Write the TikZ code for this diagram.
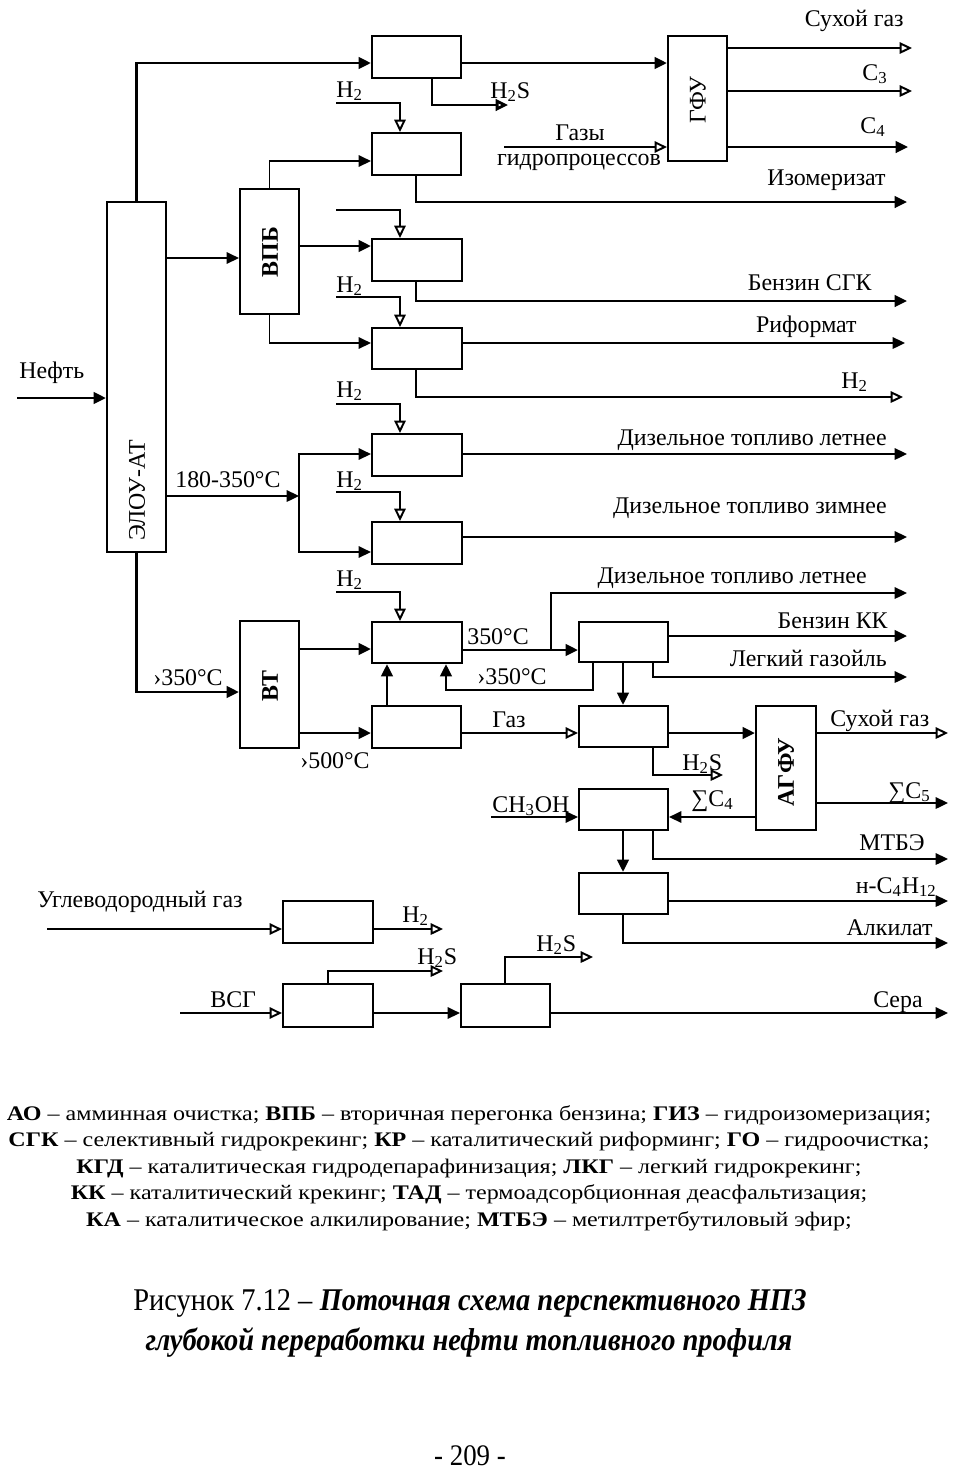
\documentclass[tikz,border=0pt]{standalone}
\usepackage{fontspec}
\setmainfont{Liberation Serif}
\newfontfamily\capfont[FakeStretch=0.9]{Liberation Serif}
\newfontfamily\legfont[FakeStretch=1.16]{Liberation Serif}
\usetikzlibrary{arrows.meta,fit,calc}
\newcommand{\lblfont}{\fontsize{13.6}{15}\selectfont}
\begin{document}
\begin{tikzpicture}[x=0.02cm,y=-0.02cm,
  box/.style={draw, line width=1.2pt, inner sep=0pt},
  ln/.style={line width=1.1pt},
  tk/.style={line width=1.6pt},
  fa/.style={ln, -{Triangle[length=7pt,width=6.5pt]}},
  oa/.style={ln, -{Triangle[open,length=7pt,width=6.5pt,fill=white]}},
  lbl/.style={font=\lblfont, inner sep=0pt},
  rl/.style={font=\lblfont, inner sep=0pt, rotate=90},
  rb/.style={font=\lblfont\bfseries, inner sep=0pt, rotate=90},
]
\useasboundingbox (0,0) rectangle (957,1475);

% boxes
\node[box, fit={(107,202)(166,552)}] (elou) {};
\node[box, fit={(240,189)(299,314)}] (vpb) {};
\node[box, fit={(240,621)(299,748)}] (vt) {};
\node[box, fit={(372,36)(461,78)}] (a1) {};
\node[box, fit={(372,133)(461,175)}] (a2) {};
\node[box, fit={(372,239)(462,281)}] (a3) {};
\node[box, fit={(372,328)(462,369)}] (a4) {};
\node[box, fit={(372,434)(462,476)}] (a5) {};
\node[box, fit={(372,522)(462,564)}] (a6) {};
\node[box, fit={(372,622)(462,663)}] (a7) {};
\node[box, fit={(372,706)(461,748)}] (a8) {};
\node[box, fit={(668,36)(727,161)}] (gfu) {};
\node[box, fit={(579,622)(668,662)}] (b1) {};
\node[box, fit={(579,706)(668,747)}] (b2) {};
\node[box, fit={(756,706)(816,830)}] (agfu) {};
\node[box, fit={(579,789)(668,830)}] (b3) {};
\node[box, fit={(579,873)(668,914)}] (b4) {};
\node[box, fit={(283,901)(373,943)}] (c1) {};
\node[box, fit={(283,984)(373,1027)}] (c2) {};
\node[box, fit={(461,984)(550,1027)}] (c3) {};

% box labels
\node[rl] (telou) at (137,490) {ЭЛОУ-АТ};
\node[rb] (tvpb) at (270,252) {ВПБ};
\node[rb] (tvt) at (270,686) {ВТ};
\node[rl] (tgfu) at (698,100) {ГФУ};
\node[rb] (tagfu) at (786,772) {АГФУ};

% free ends
\coordinate (o1) at (912,48);
\coordinate (o2) at (912,91);
\coordinate (o3) at (908,147);
\coordinate (igp) at (504,147);
\coordinate (oh2s1) at (508,105);
\coordinate (ih1) at (336,103);
\coordinate (oizo) at (907,202);
\coordinate (ih2) at (336,210);
\coordinate (ih3) at (336,297);
\coordinate (osgk) at (907,301);
\coordinate (oref) at (905,343);
\coordinate (oh2) at (903,397);
\coordinate (ineft) at (17,398);
\coordinate (ih4) at (336,404);
\coordinate (odtl) at (907,454);
\coordinate (sp) at (299,496);
\coordinate (ih5) at (336,492);
\coordinate (odtz) at (907,537);
\coordinate (ih6) at (336,592);
\coordinate (ret) at (446,690);
\coordinate (br) at (551,650);
\coordinate (odtl2) at (907,593);
\coordinate (obkk) at (907,636);
\coordinate (olg) at (907,677);
\coordinate (oh2s2) at (723,775);
\coordinate (osg2) at (948,733);
\coordinate (oc5) at (948,803);
\coordinate (ich) at (491,817);
\coordinate (omtbe) at (948,859);
\coordinate (onc) at (948,901);
\coordinate (oalk) at (948,943);
\coordinate (iug) at (47,929);
\coordinate (oh2c) at (443,929);
\coordinate (ivsg) at (180,1013);
\coordinate (oh2s3) at (443,971);
\coordinate (oh2s4) at (593,957);
\coordinate (oser) at (948,1013);

% connectors top
\draw[fa,tk] (elou.north) |- (a1.west |- 0,63);
\draw[fa,tk] (a1.east |- 0,63) -- (gfu.west |- 0,63);
\draw[oa,tk] (a1.south -| 432,0) |- (oh2s1);
\draw[oa] (ih1) -| (a2.north -| 400,0);
\draw[fa] (vpb.north) |- (a2.west |- 0,161);
\draw[fa,tk] (a2.south -| 416,0) |- (oizo);
\draw[oa] (ih2) -| (a3.north -| 400,0);
\draw[fa] (elou.east |- 0,258) -- (vpb.west |- 0,258);
\draw[fa,tk] (vpb.east |- 0,246) -- (a3.west |- 0,246);
\draw[oa] (ih3) -| (a4.north -| 400,0);
\draw[fa,tk] (a3.south -| 416,0) |- (osgk);
\draw[fa] (vpb.south) |- (a4.west |- 0,343);
\draw[fa] (a4.east |- 0,343) -- (oref);
\draw[oa] (a4.south -| 416,0) |- (oh2);
\draw[fa,tk] (ineft) -- (elou.west |- ineft);
\draw[oa] (ih4) -| (a5.north -| 400,0);
\draw[fa] (a5.east |- 0,454) -- (odtl);
\draw[fa] (elou.east |- sp) -- (sp);
\draw[fa] (sp) |- (a5.west |- 0,454);
\draw[fa] (sp) |- (a6.west |- 0,552);
\draw[oa] (ih5) -| (a6.north -| 400,0);
\draw[fa] (a6.east |- 0,537) -- (odtz);

% lower part
\draw[fa,tk] (elou.south) |- (vt.west |- 0,692);
\draw[oa] (ih6) -| (a7.north -| 400,0);
\draw[fa,tk] (vt.east |- 0,649) -- (a7.west |- 0,649);
\draw[fa,tk] (vt.east |- 0,733) -- (a8.west |- 0,733);
\draw[fa,tk] (a8.north -| 387,0) -- (a7.south -| 387,0);
\draw[fa,tk] (b1.south -| 593,0) |- (ret) -- (a7.south -| ret);
\draw[fa,tk] (a7.east |- 0,650) -- (b1.west |- 0,650);
\draw[fa] (br) |- (odtl2);
\draw[fa,tk] (b1.east |- obkk) -- (obkk);
\draw[fa] (b1.south -| 653,0) |- (olg);
\draw[fa,tk] (b1.south -| 623,0) -- (b2.north -| 623,0);
\draw[oa] (a8.east |- 0,733) -- (b2.west |- 0,733);
\draw[fa,tk] (b2.east |- 0,733) -- (agfu.west |- 0,733);
\draw[oa] (b2.south -| 653,0) |- (oh2s2);
\draw[oa] (agfu.east |- osg2) -- (osg2);
\draw[fa] (agfu.east |- oc5) -- (oc5);
\draw[fa] (agfu.west |- 0,817) -- (b3.east |- 0,817);
\draw[fa] (ich) -- (b3.west |- ich);
\draw[fa] (b3.south -| 653,0) |- (omtbe);
\draw[fa,tk] (b3.south -| 623,0) -- (b4.north -| 623,0);
\draw[fa] (b4.east |- onc) -- (onc);
\draw[fa] (b4.south -| 623,0) |- (oalk);

% bottom
\draw[oa] (iug) -- (c1.west |- iug);
\draw[oa] (c1.east |- oh2c) -- (oh2c);
\draw[oa] (ivsg) -- (c2.west |- ivsg);
\draw[oa] (c2.north -| 328,0) |- (oh2s3);
\draw[fa] (c2.east |- 0,1013) -- (c3.west |- 0,1013);
\draw[oa] (c3.north -| 505,0) |- (oh2s4);
\draw[fa] (c3.east |- oser) -- (oser);

% GFU
\draw[oa] (gfu.east |- o1) -- (o1);
\draw[oa] (gfu.east |- o2) -- (o2);
\draw[fa,tk] (gfu.east |- o3) -- (o3);
\draw[oa] (igp) -- (gfu.west |- igp);

% labels
\node[lbl, anchor=base east] (l1) at (904,26) {Сухой газ};
\node[lbl, anchor=base west] (l2) at (862,80) {C\textsubscript{3}};
\node[lbl, anchor=base west] (l3) at (860,133) {C\textsubscript{4}};
\node[lbl, anchor=base] (l4) at (580,140) {Газы};
\node[lbl, anchor=base] (l5) at (579,165) {гидропроцессов};
\node[lbl, anchor=base west] (l6) at (490,98) {H\textsubscript{2}S};
\node[lbl, anchor=base west] (l7) at (336,97) {H\textsubscript{2}};
\node[lbl, anchor=base east] (l8) at (886,185) {Изомеризат};
\node[lbl, anchor=base west] (l9) at (336,292) {H\textsubscript{2}};
\node[lbl, anchor=base east] (l10) at (872,290) {Бензин СГК};
\node[lbl, anchor=base east] (l11) at (857,332) {Риформат};
\node[lbl, anchor=base west] (l12) at (841,388) {H\textsubscript{2}};
\node[lbl, anchor=base west] (l13) at (19,378) {Нефть};
\node[lbl, anchor=base west] (l14) at (336,397) {H\textsubscript{2}};
\node[lbl, anchor=base east] (l15) at (887,445) {Дизельное топливо летнее};
\node[lbl, anchor=base west] (l16) at (175,487) {180-350°C};
\node[lbl, anchor=base west] (l17) at (336,487) {H\textsubscript{2}};
\node[lbl, anchor=base east] (l18) at (887,513) {Дизельное топливо зимнее};
\node[lbl, anchor=base west] (l19) at (336,586) {H\textsubscript{2}};
\node[lbl, anchor=base east] (l20) at (867,583) {Дизельное топливо летнее};
\node[lbl, anchor=base west] (l21) at (467,644) {350°C};
\node[lbl, anchor=base east] (l22) at (888,628) {Бензин КК};
\node[lbl, anchor=base east] (l23) at (887,666) {Легкий газойль};
\node[lbl, anchor=base west] (l24) at (153,685) {›350°C};
\node[lbl, anchor=base west] (l25) at (477,684) {›350°C};
\node[lbl, anchor=base west] (l26) at (492,727) {Газ};
\node[lbl, anchor=base west] (l27) at (300,768) {›500°C};
\node[lbl, anchor=base west] (l28) at (830,726) {Сухой газ};
\node[lbl, anchor=base west] (l29) at (682,770) {H\textsubscript{2}S};
\node[lbl, anchor=base west] (l30) at (691,806) {∑C\textsubscript{4}};
\node[lbl, anchor=base west] (l31) at (492,812) {CH\textsubscript{3}OH};
\node[lbl, anchor=base west] (l32) at (888,798) {∑C\textsubscript{5}};
\node[lbl, anchor=base east] (l33) at (925,850) {МТБЭ};
\node[lbl, anchor=base east] (l34) at (937,893) {н-C\textsubscript{4}H\textsubscript{12}};
\node[lbl, anchor=base east] (l35) at (933,935) {Алкилат};
\node[lbl, anchor=base west] (l36) at (37,907) {Углеводородный газ};
\node[lbl, anchor=base west] (l37) at (402,922) {H\textsubscript{2}};
\node[lbl, anchor=base west] (l38) at (210,1007) {ВСГ};
\node[lbl, anchor=base west] (l39) at (417,964) {H\textsubscript{2}S};
\node[lbl, anchor=base west] (l40) at (536,951) {H\textsubscript{2}S};
\node[lbl, anchor=base east] (l41) at (923,1007) {Сера};

% legend
\node[align=center, inner sep=0pt, anchor=base, font=\legfont\fontsize{11.8}{15}\selectfont] (legend) at (469,1226) {%
\textbf{АО} – амминная очистка; \textbf{ВПБ} – вторичная перегонка бензина; \textbf{ГИЗ} – гидроизомеризация;\\
\textbf{СГК} – селективный гидрокрекинг; \textbf{КР} – каталитический риформинг; \textbf{ГО} – гидроочистка;\\
\textbf{КГД} – каталитическая гидродепарафинизация; \textbf{ЛКГ} – легкий гидрокрекинг;\\
\textbf{КК} – каталитический крекинг; \textbf{ТАД} – термоадсорбционная деасфальтизация;\\
\textbf{КА} – каталитическое алкилирование; \textbf{МТБЭ} – метилтретбутиловый эфир;};

% caption
\node[inner sep=0pt, anchor=base, font=\capfont\fontsize{18}{22}\selectfont] (cap1) at (470,1310) {Рисунок 7.12 – \textbf{\itshape Поточная схема перспективного НПЗ}};
\node[inner sep=0pt, anchor=base, font=\capfont\fontsize{18}{22}\selectfont] (cap2) at (469,1350) {\textbf{\itshape глубокой переработки нефти топливного профиля}};
\node[inner sep=0pt, anchor=base, font=\capfont\fontsize{17}{20}\selectfont] (page) at (470,1465) {- 209 -};
\end{tikzpicture}
\end{document}
